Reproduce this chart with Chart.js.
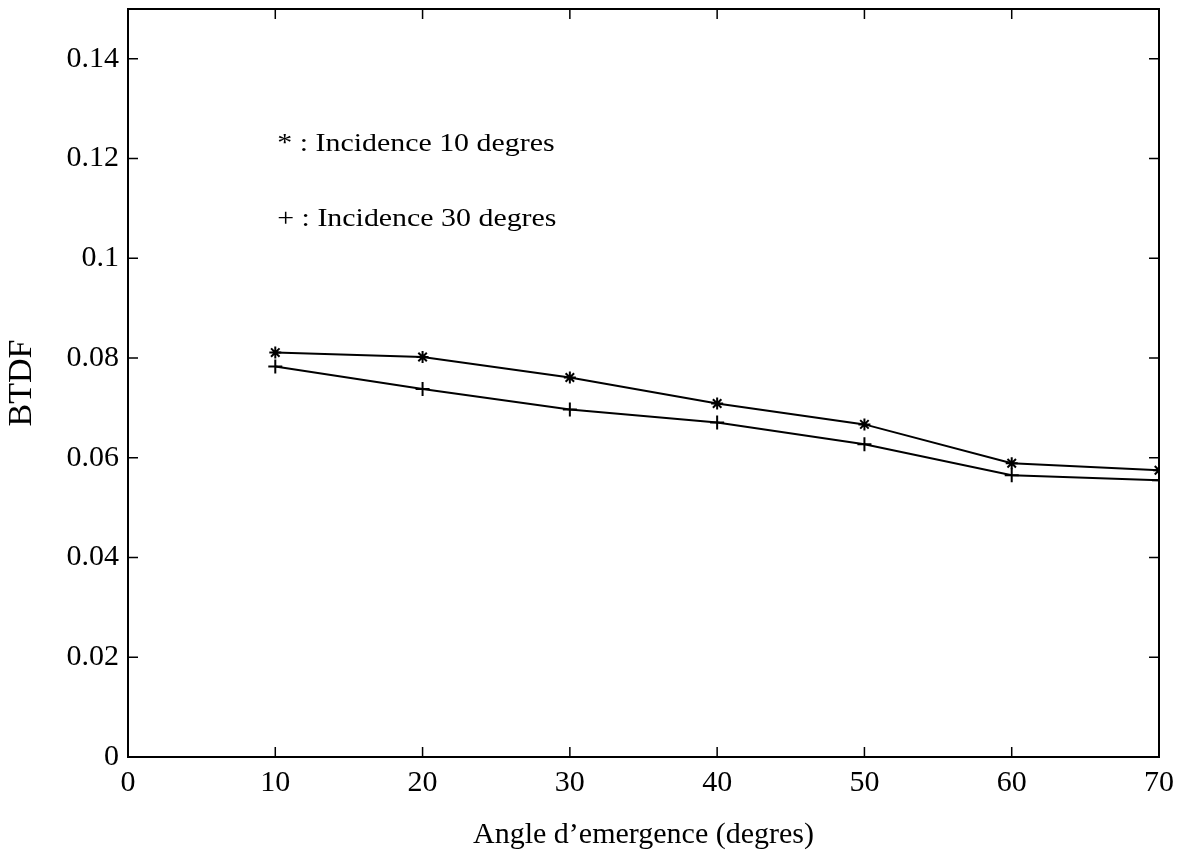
<!DOCTYPE html>
<html>
<head>
<meta charset="utf-8">
<script src="https://cdn.jsdelivr.net/npm/chart.js@4.4.1/dist/chart.umd.min.js"></script>
<style>
  html, body { margin: 0; padding: 0; background: #fff; }
  #wrap { width: 1178px; height: 864px; }
</style>
</head>
<body>
<div id="wrap"><canvas id="chart" width="1178" height="864"></canvas></div>
<script>
// values
const angles = [10, 20, 30, 40, 50, 60, 70];
const incidence10 = [0.0811, 0.0802, 0.0761, 0.0709, 0.0667, 0.0589, 0.0575];
const incidence30 = [0.0783, 0.0738, 0.0697, 0.0671, 0.0627, 0.0565, 0.0555];

const xTickValues = [0, 10, 20, 30, 40, 50, 60, 70];
const yTickValues = [0, 0.02, 0.04, 0.06, 0.08, 0.1, 0.12, 0.14];
const yTickLabels = ['0', '0.02', '0.04', '0.06', '0.08', '0.1', '0.12', '0.14'];

const legendLines = ['* : Incidence 10 degres', '+ : Incidence 30 degres'];

const serif = "'Liberation Serif', 'DejaVu Serif', serif";

// white page behind everything
const background = {
    id: 'background',
    beforeDraw(chart) {
        const ctx = chart.ctx;
        ctx.save();
        ctx.fillStyle = '#fff';
        ctx.fillRect(0, 0, chart.width, chart.height);
        ctx.restore();
    }
};

// box round the plot with inward tick marks on all four sides
const frame = {
    id: 'frame',
    afterDraw(chart) {
        const ctx = chart.ctx;
        const a = chart.chartArea;
        const xs = chart.scales.x, ys = chart.scales.y;
        const len = 10;
        ctx.save();
        ctx.strokeStyle = '#000';
        ctx.lineWidth = 1.5;
        ctx.beginPath();
        xTickValues.forEach(v => {
            const px = xs.getPixelForValue(v);
            ctx.moveTo(px, a.bottom); ctx.lineTo(px, a.bottom - len);
            ctx.moveTo(px, a.top); ctx.lineTo(px, a.top + len);
        });
        yTickValues.forEach(v => {
            const py = ys.getPixelForValue(v);
            ctx.moveTo(a.left, py); ctx.lineTo(a.left + len, py);
            ctx.moveTo(a.right, py); ctx.lineTo(a.right - len, py);
        });
        ctx.stroke();
        ctx.lineWidth = 2;
        ctx.strokeRect(a.left, a.top, a.right - a.left, a.bottom - a.top);
        ctx.restore();
    }
};

// the text legend inside the plot
const notes = {
    id: 'notes',
    afterDraw(chart) {
        const ctx = chart.ctx;
        const xs = chart.scales.x, ys = chart.scales.y;
        ctx.save();
        ctx.fillStyle = '#000';
        ctx.font = '26px ' + serif;
        ctx.textBaseline = 'middle';
        const x0 = xs.getPixelForValue(10) + 2;
        [0.1228, 0.1078].forEach((v, i) => {
            const y = ys.getPixelForValue(v);
            ctx.save();
            ctx.translate(x0, y);
            ctx.scale(1.15, 1);
            ctx.fillText(legendLines[i], 0, 0);
            ctx.restore();
        });
        ctx.restore();
    }
};

new Chart(document.getElementById('chart'), {
    type: 'line',
    data: {
        datasets: [
            {
                label: 'Incidence 10 degres',
                data: angles.map((x, i) => ({ x: x, y: incidence10[i] })),
                borderColor: '#000',
                borderWidth: 2,
                pointStyle: 'star',
                pointRadius: 6,
                pointBorderWidth: 2,
                pointBorderColor: '#000',
                pointBackgroundColor: '#000',
                tension: 0,
                fill: false
            },
            {
                label: 'Incidence 30 degres',
                data: angles.map((x, i) => ({ x: x, y: incidence30[i] })),
                borderColor: '#000',
                borderWidth: 2,
                pointStyle: 'cross',
                pointRadius: 7,
                pointBorderWidth: 2,
                pointBorderColor: '#000',
                pointBackgroundColor: '#000',
                tension: 0,
                fill: false
            }
        ]
    },
    options: {
        responsive: false,
        animation: false,
        layout: { padding: { top: 8, right: 19, left: 0, bottom: 0 } },
        plugins: {
            legend: { display: false },
            tooltip: { enabled: false }
        },
        scales: {
            x: {
                type: 'linear',
                min: 0,
                max: 70,
                grid: { display: false, drawTicks: false },
                border: { display: false },
                afterBuildTicks: s => { s.ticks = xTickValues.map(v => ({ value: v })); },
                afterFit: s => { s.height = 107; s.paddingLeft = 0; s.paddingRight = 0; },
                ticks: {
                    color: '#000',
                    padding: 8,
                    maxRotation: 0,
                    font: { family: serif, size: 30 },
                    callback: v => String(v)
                },
                title: {
                    display: true,
                    text: 'Angle d\u2019emergence (degres)',
                    color: '#000',
                    font: { family: serif, size: 30 },
                    padding: { top: 0, bottom: 11 }
                }
            },
            y: {
                type: 'linear',
                min: 0,
                max: 0.15,
                grid: { display: false, drawTicks: false },
                border: { display: false },
                afterBuildTicks: s => { s.ticks = yTickValues.map(v => ({ value: v })); },
                afterFit: s => { s.width = 128; s.paddingTop = 0; s.paddingBottom = 0; },
                ticks: {
                    color: '#000',
                    padding: 9,
                    font: { family: serif, size: 30 },
                    callback: (v, i) => yTickLabels[i]
                },
                title: {
                    display: true,
                    text: 'BTDF',
                    color: '#000',
                    font: { family: serif, size: 34 },
                    padding: { top: 2, bottom: 0 }
                }
            }
        }
    },
    plugins: [background, frame, notes]
});
</script>
</body>
</html>
